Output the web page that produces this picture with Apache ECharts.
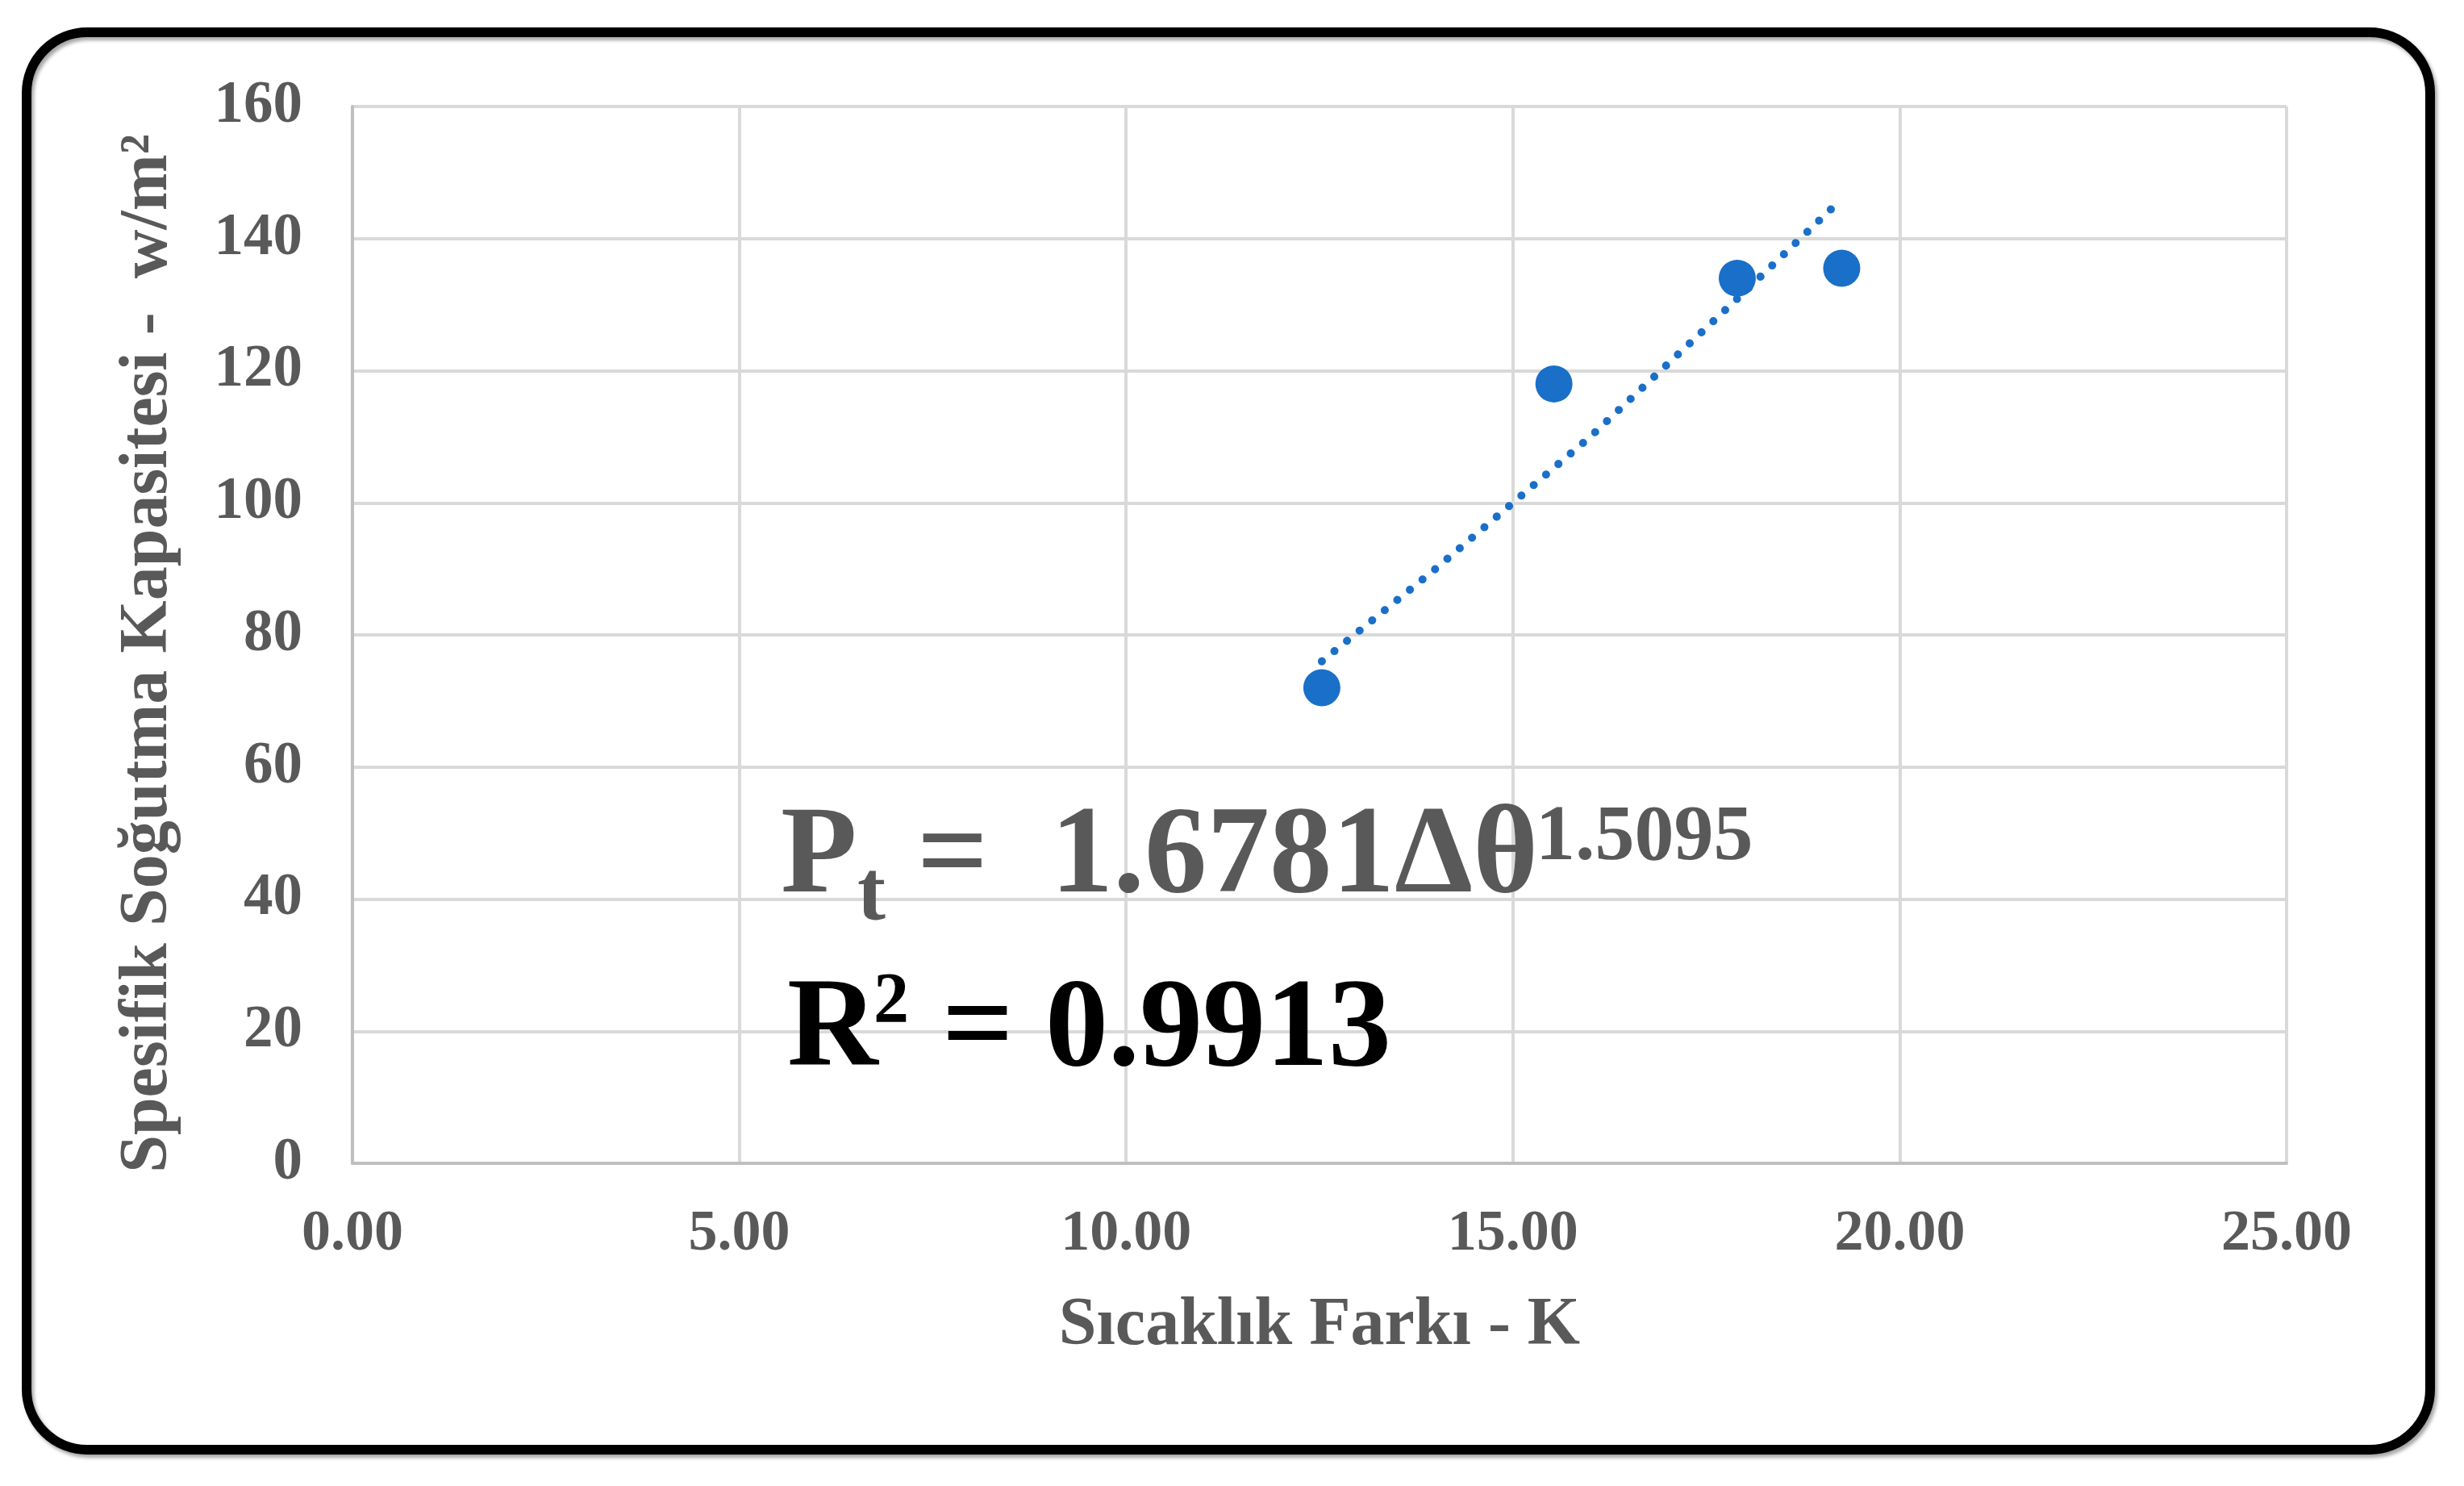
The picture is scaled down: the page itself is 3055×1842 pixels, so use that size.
<!DOCTYPE html>
<html>
<head>
<meta charset="utf-8">
<script src="https://cdn.jsdelivr.net/npm/echarts@6/dist/echarts.min.js"></script>
<style>
html, body { margin: 0; padding: 0; background: #fff; }
#chart { width: 3055px; height: 1842px; }
</style>
</head>
<body>
<div id="chart"></div>
<script>
// measured points
var tempDiff = [12.53, 15.53, 17.9, 19.25];
var coolingCap = [72, 118, 134, 135.5];

// dotted power trendline
var trendX = [12.53, 14, 15, 16, 17, 18, 19.25];
var trendY = [76, 90, 100, 110, 121, 132, 146];

var xTicks = [0, 5, 10, 15, 20, 25];
var yTicks = [0, 20, 40, 60, 80, 100, 120, 140, 160];

var serif = "'Liberation Serif', 'Times New Roman', serif";
var gray = '#595959';
var blue = '#1A6FC8';

var chart = echarts.init(document.getElementById('chart'));

var points = tempDiff.map(function (x, i) { return [x, coolingCap[i]]; });
var trend = trendX.map(function (x, i) { return [x, trendY[i]]; });

var option = {
  backgroundColor: '#fff',
  animation: false,
  grid: { left: 437, right: 220, top: 132, bottom: 400 },
  xAxis: {
    type: 'value',
    min: xTicks[0],
    max: xTicks[xTicks.length - 1],
    interval: 5,
    name: 'Sıcaklık Farkı - K',
    nameLocation: 'middle',
    nameGap: 160,
    nameTextStyle: { fontFamily: serif, fontWeight: 'bold', fontSize: 84, color: gray },
    axisLine: { show: true, lineStyle: { color: '#bfbfbf', width: 4 } },
    axisTick: { show: false },
    splitLine: { show: true, lineStyle: { color: '#d9d9d9', width: 4 } },
    axisLabel: {
      margin: 52,
      fontFamily: serif, fontWeight: 'bold', fontSize: 72, color: gray,
      formatter: function (v) { return v.toFixed(2); }
    }
  },
  yAxis: {
    type: 'value',
    min: yTicks[0],
    max: yTicks[yTicks.length - 1],
    interval: 20,
    name: 'Spesifik Soğutma Kapasitesi -  w/m²',
    nameLocation: 'middle',
    nameGap: 211,
    nameTextStyle: {
      fontFamily: serif, fontWeight: 'bold', fontSize: 84, color: gray,
      padding: [0, 46, 0, 0]
    },
    axisLine: { show: true, lineStyle: { color: '#bfbfbf', width: 4 } },
    axisTick: { show: false },
    splitLine: { show: true, lineStyle: { color: '#d9d9d9', width: 4 } },
    axisLabel: { margin: 62, fontFamily: serif, fontWeight: 'bold', fontSize: 73, color: gray }
  },
  series: [
    {
      type: 'scatter',
      data: points,
      symbol: 'circle',
      symbolSize: 46,
      itemStyle: { color: blue, opacity: 1 },
      z: 2
    },
    {
      type: 'line',
      data: trend,
      symbol: 'none',
      lineStyle: { color: blue, width: 10, type: [0.1, 20], cap: 'round', opacity: 1 },
      z: 3
    }
  ],
  graphic: [
    {
      type: 'rect',
      shape: { x: 33, y: 40, width: 2980, height: 1757, r: 75 },
      style: {
        fill: 'none', stroke: '#000', lineWidth: 12,
        shadowColor: 'rgba(0,0,0,0.35)', shadowOffsetX: 3, shadowOffsetY: 4, shadowBlur: 4
      },
      z: 10
    },
    {
      type: 'text', x: 968, y: 1065, z: 10,
      style: { text: 'P', font: 'bold 155px ' + serif, fill: gray, textVerticalAlign: 'middle', verticalAlign: 'middle' }
    },
    {
      type: 'text', x: 1063, y: 1112, z: 10,
      style: { text: 't', font: 'bold 105px ' + serif, fill: gray, textVerticalAlign: 'middle', verticalAlign: 'middle' }
    },
    {
      type: 'text', x: 1137, y: 1065, z: 10,
      style: { text: '=  1.6781Δθ', font: 'bold 155px ' + serif, fill: gray, textVerticalAlign: 'middle', verticalAlign: 'middle' }
    },
    {
      type: 'text', x: 1904, y: 1040, z: 10,
      style: { text: '1.5095', font: 'bold 98px ' + serif, fill: gray, textVerticalAlign: 'middle', verticalAlign: 'middle' }
    },
    {
      type: 'text', x: 976, y: 1280, z: 10,
      style: { text: 'R', font: 'bold 156px ' + serif, fill: '#000', textVerticalAlign: 'middle', verticalAlign: 'middle' }
    },
    {
      type: 'text', x: 1083, y: 1243, z: 10,
      style: { text: '2', font: 'bold 88px ' + serif, fill: '#000', textVerticalAlign: 'middle', verticalAlign: 'middle' }
    },
    {
      type: 'text', x: 1168, y: 1280, z: 10,
      style: { text: '= 0.9913', font: 'bold 156px ' + serif, fill: '#000', textVerticalAlign: 'middle', verticalAlign: 'middle' }
    }
  ]
};

chart.setOption(option);
</script>
</body>
</html>
